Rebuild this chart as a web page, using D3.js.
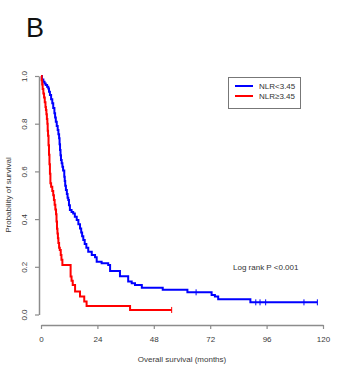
<!DOCTYPE html>
<html>
<head>
<meta charset="utf-8">
<script src="https://cdn.jsdelivr.net/npm/d3@7"></script>
<style>
  body { margin: 0; background: #fff; }
  text { font-family: "Liberation Sans", Arial, sans-serif; }
</style>
</head>
<body>
<div id="chart"></div>
<script>
// Kaplan-Meier step points: [months, survival]
let lowNLR = [
  [0, 1], [0.4, 0.985], [1.0, 0.976], [1.5, 0.969], [2.0, 0.962], [2.6, 0.955],
  [3.1, 0.948], [3.4, 0.934], [3.8, 0.92], [4.3, 0.903], [4.8, 0.886],
  [5.2, 0.866], [5.7, 0.844], [6.0, 0.826], [6.3, 0.808], [6.7, 0.79],
  [7.1, 0.774], [7.4, 0.756], [7.7, 0.739], [7.9, 0.714], [8.1, 0.69],
  [8.3, 0.668], [8.5, 0.648], [8.8, 0.634], [9.1, 0.62], [9.4, 0.604],
  [9.9, 0.578], [10.1, 0.56], [10.3, 0.54], [10.6, 0.522], [11.0, 0.505],
  [11.3, 0.49], [11.6, 0.48], [11.9, 0.458], [12.3, 0.438], [13.0, 0.43],
  [13.7, 0.424], [14.4, 0.41], [15.2, 0.396], [15.9, 0.378], [16.6, 0.361],
  [17.1, 0.344], [17.5, 0.328], [18.0, 0.312], [18.6, 0.296], [19.3, 0.28],
  [20.1, 0.263], [21.6, 0.249], [23.0, 0.24], [23.7, 0.221], [25.8, 0.215],
  [28.6, 0.208], [29.4, 0.182], [33.6, 0.16], [37.1, 0.138], [38.6, 0.131],
  [40.0, 0.124], [42.9, 0.112], [51.8, 0.104], [62.3, 0.093], [72.6, 0.082],
  [74.0, 0.075], [75.4, 0.064], [89.1, 0.051], [117.6, 0.051]
];
let highNLR = [
  [0, 1], [0.3, 0.982], [0.5, 0.964], [0.7, 0.946], [1.0, 0.927], [1.3, 0.91],
  [1.6, 0.89], [1.9, 0.87], [2.1, 0.857], [2.3, 0.84], [2.5, 0.82], [2.7, 0.8],
  [2.85, 0.77], [3.0, 0.75], [3.2, 0.71], [3.4, 0.67], [3.6, 0.63], [3.8, 0.59],
  [4.0, 0.55], [4.3, 0.536], [4.8, 0.518], [5.2, 0.5], [5.5, 0.48], [5.8, 0.46],
  [6.1, 0.44], [6.4, 0.42], [6.6, 0.39], [6.8, 0.36], [7.0, 0.34], [7.2, 0.32],
  [7.4, 0.3], [7.7, 0.28], [8.0, 0.27], [8.4, 0.25], [8.7, 0.23], [9.1, 0.208],
  [12.6, 0.159], [13.0, 0.141], [13.5, 0.124], [14.5, 0.096], [16.6, 0.075],
  [18.4, 0.054], [19.4, 0.036], [37.9, 0.019], [55.6, 0.019]
];
// censored observations (months)
let lowCensor = [66.0, 91.4, 93.2, 95.6, 111.9, 117.6];
let highCensor = [55.6];

let xTicks = [0, 24, 48, 72, 96, 120];
let yTicks = [0, 0.2, 0.4, 0.6, 0.8, 1.0];
let legendLabels = ["NLR<3.45", "NLR\u22653.45"];
let colors = ["#0000ff", "#ff0000"];

let svgWidth = 350, svgHeight = 376;

let svg = d3.select('#chart')
            .append('svg')
            .attr('width', svgWidth)
            .attr('height', svgHeight);

let xScale = d3.scaleLinear().domain([0, 120]).range([41, 323]);
let yScale = d3.scaleLinear().domain([0, 1]).range([314.5, 76]);

// Panel letter
svg.append('text')
    .attr('x', 26).attr('y', 37)
    .attr('font-size', 27)
    .attr('fill', '#111')
    .text('B');

// Axes, R base-graphics style (detached from the plot box)
let axisColor = '#8c8c8c';
let xAxis = svg.append('g')
    .attr('transform', 'translate(0, 325)')
    .call(d3.axisBottom(xScale).tickValues(xTicks).tickSize(4).tickSizeOuter(0).tickPadding(7));
let yAxis = svg.append('g')
    .attr('transform', 'translate(39, 0)')
    .call(d3.axisLeft(yScale).tickValues(yTicks).tickSize(4).tickSizeOuter(0)
          .tickFormat(d3.format('.1f')));

[xAxis, yAxis].forEach(a => {
    a.select('.domain').attr('stroke', axisColor).attr('stroke-width', 1.5);
    a.selectAll('.tick line').attr('stroke', axisColor).attr('stroke-width', 1.2);
    a.selectAll('.tick text').attr('fill', '#3a3a3a').attr('font-size', 8)
        .attr('font-family', '"Liberation Sans", Arial, sans-serif');
});

// rotate y tick labels like R (las = 0)
yAxis.selectAll('.tick text')
    .attr('text-anchor', 'middle')
    .attr('x', 0).attr('dy', 0)
    .attr('transform', 'translate(-12, 0) rotate(-90)');

// Axis titles
svg.append('text')
    .attr('x', 182).attr('y', 362)
    .attr('text-anchor', 'middle')
    .attr('font-size', 8).attr('fill', '#3a3a3a')
    .text('Overall survival (months)');
svg.append('text')
    .attr('transform', 'translate(11, 195) rotate(-90)')
    .attr('text-anchor', 'middle')
    .attr('font-size', 8).attr('fill', '#3a3a3a')
    .text('Probability of survival');

// Survival curves
let line = d3.line()
    .x(d => xScale(d[0]))
    .y(d => yScale(d[1]))
    .curve(d3.curveStepAfter);

let series = [lowNLR, highNLR];
let censors = [lowCensor, highCensor];

series.forEach((s, i) => {
    svg.append('path')
        .datum(s)
        .attr('d', line)
        .attr('fill', 'none')
        .attr('stroke', colors[i])
        .attr('stroke-width', 2);

    // survival value at a censor time
    let survAt = t => {
        let v = 1;
        s.forEach(p => { if (p[0] <= t) v = p[1]; });
        return v;
    };
    svg.selectAll(null)
        .data(censors[i])
        .enter()
        .append('line')
        .attr('x1', d => xScale(d)).attr('x2', d => xScale(d))
        .attr('y1', d => yScale(survAt(d)) - 3)
        .attr('y2', d => yScale(survAt(d)) + 3)
        .attr('stroke', colors[i])
        .attr('stroke-width', 1);
});

// Legend
let legend = svg.append('g');
legend.append('rect')
    .attr('x', 228.5).attr('y', 77.5)
    .attr('width', 72).attr('height', 31)
    .attr('fill', '#fff')
    .attr('stroke', '#777')
    .attr('stroke-width', 1);
legendLabels.forEach((lab, i) => {
    let y = 86 + i * 10;
    legend.append('line')
        .attr('x1', 235).attr('x2', 253)
        .attr('y1', y).attr('y2', y)
        .attr('stroke', colors[i])
        .attr('stroke-width', 2);
    legend.append('text')
        .attr('x', 259).attr('y', y + 3)
        .attr('font-size', 8).attr('fill', '#333')
        .text(lab);
});

// Log-rank annotation
svg.append('text')
    .attr('x', 233).attr('y', 270)
    .attr('font-size', 8).attr('fill', '#333')
    .text('Log rank P <0.001');
</script>
</body>
</html>
